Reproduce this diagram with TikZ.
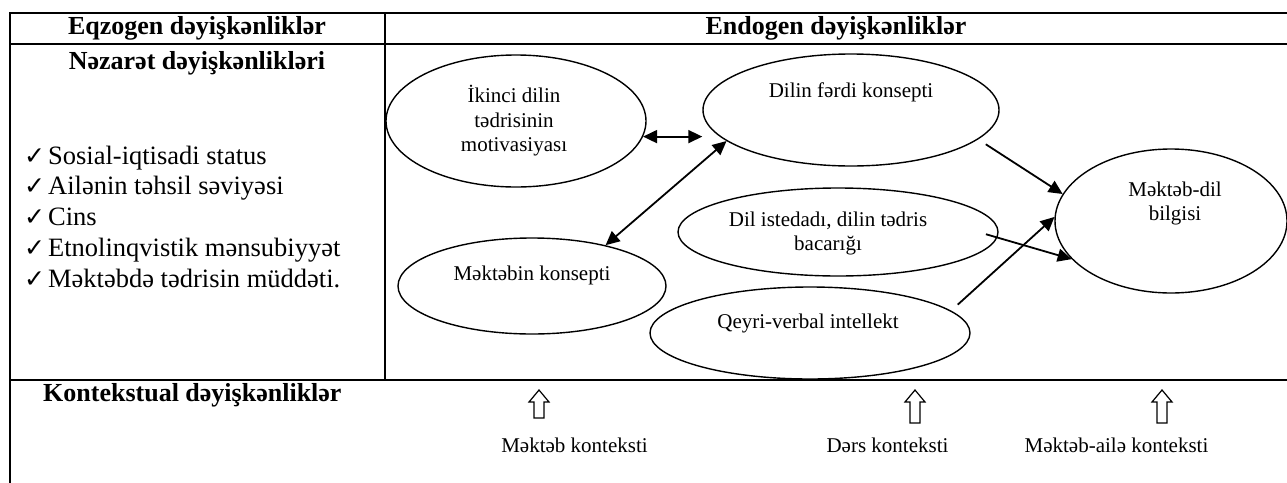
\documentclass[tikz,border=0pt]{standalone}
\usepackage{fontspec}
\setmainfont{Liberation Serif}
\newfontfamily\symfont{DejaVu Sans}
\usetikzlibrary{shapes.geometric,arrows.meta,calc}
\newcommand{\chk}{{\symfont\fontsize{25}{25}\selectfont ✓}\hspace{3pt}}
\begin{document}
\begin{tikzpicture}[x=1pt,y=-1pt,
  grid/.style={line width=2.2pt},
  ell/.style={draw,ellipse,line width=1.4pt,inner sep=0pt},
  etext/.style={font=\fontsize{21}{24.5}\selectfont,align=center,inner sep=0pt},
  head/.style={font=\bfseries\fontsize{26}{30}\selectfont,inner sep=0pt},
  item/.style={font=\fontsize{26.5}{31}\selectfont,anchor=base west,inner sep=0pt},
  conn/.style={line width=1.8pt,-{Triangle[length=14pt,width=13pt]}},
  dconn/.style={line width=1.8pt,{Triangle[length=14pt,width=13pt]}-{Triangle[length=14pt,width=13pt]}},
  ctx/.style={font=\fontsize{21}{24}\selectfont,inner sep=0pt},
  hollow/.style={line width=1.2pt,line join=miter}
]
\useasboundingbox (0,0) rectangle (1287,482);
\clip (0,0) rectangle (1287,482);
% table
\draw[grid] (9,13) -- (1300,13);
\draw[grid] (10,44) -- (1300,44);
\draw[line width=2.8pt] (10,380) -- (1300,380);
\draw[grid] (10,12) -- (10,490);
\draw[grid] (385,13) -- (385,380);
% headers
\node[head] (h1) at (197,28) {Eqzogen dəyişkənliklər};
\node[head] (h2) at (836,28) {Endogen dəyişkənliklər};
\node[head] (h3) at (197,63) {Nəzarət dəyişkənlikləri};
\node[head,anchor=west] (h4) at (43,395) {Kontekstual dəyişkənliklər};
% checklist
\node[item] (c1) at (24,164.0) {\chk Sosial-iqtisadi status};
\node[item] (c2) at (24,194.8) {\chk Ailənin təhsil səviyəsi};
\node[item] (c3) at (24,225.6) {\chk Cins};
\node[item] (c4) at (24,256.4) {\chk Etnolinqvistik mənsubiyyət};
\node[item] (c5) at (24,287.2) {\chk Məktəbdə tədrisin müddəti.};
% ellipses
\node[ell,minimum width=260pt,minimum height=132pt] (e1) at (516,121) {};
\node[ell,minimum width=296pt,minimum height=112pt] (e2) at (851,110) {};
\node[ell,minimum width=320pt,minimum height=88pt]  (e3) at (838,232) {};
\node[ell,minimum width=268pt,minimum height=96pt]  (e4) at (532,286) {};
\node[ell,minimum width=320pt,minimum height=92pt]  (e5) at (810,333) {};
\node[ell,minimum width=232pt,minimum height=144pt] (e6) at (1171,221) {};
% ellipse texts
\node[etext] (t1) at (514,121) {İkinci dilin\\tədrisinin\\motivasiyası};
\node[etext] (t2) at (851,92) {Dilin fərdi konsepti};
\node[etext] (t3) at (828,233.5) {Dil istedadı, dilin tədris\\bacarığı};
\node[etext] (t4) at (532,275) {Məktəbin konsepti};
\node[etext] (t5) at (808,323) {Qeyri-verbal intellekt};
\node[etext] (t6) at (1175,203.5) {Məktəb-dil\\bilgisi};
% connectors
\draw[dconn] (e1.-7) -- (e1.-7 -| e2.west);
\draw[dconn] (e2.194) -- (e4.29);
\draw[conn,shorten <=9pt] (e2.-13) -- (e6.166);
\draw[conn,shorten <=-12pt] (e3.-2) -- (e6.201);
\draw[conn,shorten <=9pt] (e5.9) -- (e6.178);
% context arrows
\foreach \x/\b in {539/418, 915/423, 1162/423}{
  \draw[hollow] (\x,390) -- (\x+10,402) -- (\x+5,402) -- (\x+5,\b) -- (\x-5,\b) -- (\x-5,402) -- (\x-10,402) -- cycle;
}
\node[ctx] (l1) at (574.5,445) {Məktəb konteksti};
\node[ctx] (l2) at (887.5,445) {Dərs konteksti};
\node[ctx] (l3) at (1116.5,445) {Məktəb-ailə konteksti};
\end{tikzpicture}
\end{document}
